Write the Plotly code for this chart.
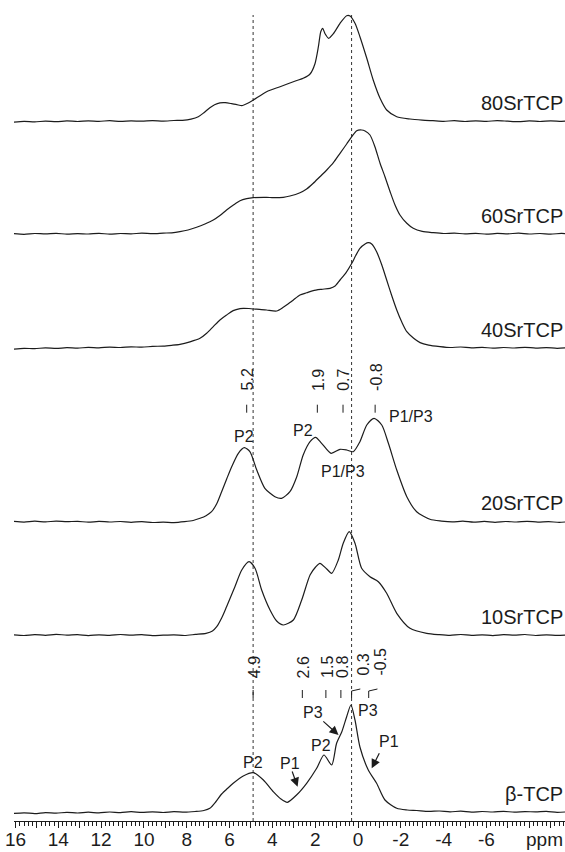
import plotly.graph_objects as go

# ---------------------------------------------------------------------------
# 31P MAS NMR spectra (chemical shift in ppm, intensity in plot units)
# ---------------------------------------------------------------------------
samples = ["80SrTCP", "60SrTCP", "40SrTCP", "20SrTCP", "10SrTCP", "β-TCP"]

ppm_80 = [16.1, 15.6, 15.1, 14.6, 14.1, 13.6, 13.1, 12.6, 12.1, 11.6,
          11.1, 10.6, 10.1, 9.6, 9.1, 8.6, 8.2, 7.8, 7.46, 7.2,
          6.92, 6.7, 6.45, 6.2, 5.9, 5.59, 5.43, 5.15, 4.89, 4.27,
          3.64, 3.02, 2.56, 2.24, 2.01, 1.85, 1.74, 1.65, 1.54, 1.37,
          1.15, 0.84, 0.53, 0.37, 0.14, -0.09, -0.41, -0.71, -1.03, -1.34,
          -1.81, -2.43, -3.0, -3.5, -4.0, -4.5, -5.0, -5.5, -6.0, -6.5,
          -7.0, -7.5, -8.0, -8.5, -9.0, -9.5, -9.8]
int_80 = [-0.5, 0.3, -0.2, 0.6, 0.0, 0.8, 0.2, 0.9, 0.4, 1.0,
          0.3, 0.8, 0.5, 1.1, 0.6, 1.2, 1.4, 2.6, 5.0, 9.0,
          14.0, 17.0, 18.8, 19.0, 18.0, 16.7, 16.0, 18.5, 21.7, 30.0,
          35.0, 40.0, 43.4, 47.7, 58.0, 75.0, 90.0, 93.4, 88.0, 83.4,
          88.0, 98.4, 106.0, 105.7, 98.4, 85.0, 63.4, 41.7, 23.4, 11.7,
          5.0, 2.7, 1.6, 1.0, 0.4, 1.0, 0.2, 0.9, 0.3, 1.1,
          0.5, 0.0, 0.8, 0.2, 0.9, 0.4, 0.7]

ppm_60 = [16.1, 15.6, 15.1, 14.6, 14.1, 13.6, 13.1, 12.6, 12.1, 11.6,
          11.1, 10.6, 10.1, 9.6, 9.1, 8.7, 8.32, 7.94, 7.54, 7.15,
          6.76, 6.45, 6.14, 5.82, 5.51, 5.2, 4.89, 4.27, 3.96, 3.49,
          3.18, 2.71, 2.4, 2.09, 1.78, 1.46, 1.15, 0.84, 0.53, 0.29,
          0.06, -0.17, -0.33, -0.56, -0.79, -1.03, -1.26, -1.5, -1.73, -1.96,
          -2.28, -2.58, -3.0, -3.52, -4.0, -4.5, -5.0, -5.5, -6.0, -6.5,
          -7.0, -7.5, -8.0, -8.5, -9.0, -9.5, -9.8]
int_60 = [0.4, -0.3, 0.5, 0.1, 0.7, -0.2, 0.4, 0.0, 0.6, -0.1,
          0.5, 0.2, 0.8, 0.3, 0.9, 1.2, 2.3, 4.0, 6.7, 10.0,
          14.0, 18.5, 24.0, 29.0, 33.3, 35.3, 36.3, 36.7, 36.3, 36.7,
          38.0, 41.3, 45.0, 50.7, 57.3, 64.0, 71.3, 80.7, 90.0, 97.3,
          103.3, 104.0, 103.0, 99.0, 87.3, 70.7, 57.3, 42.3, 29.0, 19.0,
          10.7, 5.7, 2.6, 1.3, 0.5, 0.9, 0.1, 0.7, -0.2, 0.6,
          0.2, 0.8, 0.0, 0.5, -0.1, 0.6, 0.3]

ppm_40 = [16.1, 15.6, 15.1, 14.6, 14.1, 13.6, 13.1, 12.6, 12.1, 11.6,
          11.1, 10.6, 10.1, 9.6, 9.1, 8.7, 8.32, 7.85, 7.38, 7.07,
          6.76, 6.45, 6.14, 5.83, 5.51, 5.36, 5.1, 4.89, 4.6, 4.27,
          3.8, 3.49, 3.18, 3.02, 2.71, 2.4, 2.09, 1.7, 1.31, 1.07,
          0.84, 0.55, 0.29, 0.1, -0.09, -0.33, -0.48, -0.64, -0.87, -1.1,
          -1.34, -1.57, -1.81, -2.05, -2.28, -2.6, -2.9, -3.3, -3.83, -4.3,
          -4.8, -5.3, -5.8, -6.3, -6.8, -7.3, -7.8, -8.3, -8.8, -9.3,
          -9.8]
int_40 = [-0.8, 0.0, -0.4, 0.5, -0.1, 0.6, 0.2, 0.9, 0.5, 1.2,
          0.8, 1.5, 1.1, 1.9, 2.2, 3.0, 4.0, 6.5, 10.0, 15.0,
          21.7, 28.3, 33.3, 37.7, 39.7, 40.0, 39.8, 39.3, 39.0, 38.3,
          37.3, 41.0, 45.7, 48.3, 53.3, 55.5, 57.7, 59.0, 60.0, 62.3,
          68.3, 76.0, 85.0, 93.0, 100.0, 104.3, 105.6, 104.3, 96.6, 84.0,
          68.3, 53.0, 38.3, 26.0, 16.6, 10.0, 5.7, 3.2, 1.7, 0.8,
          1.3, 0.4, 1.0, 0.1, 0.8, 0.3, 1.0, 0.2, 0.7, 0.0,
          0.5]

ppm_20 = [16.1, 15.6, 15.1, 14.6, 14.1, 13.6, 13.1, 12.6, 12.1, 11.6,
          11.1, 10.6, 10.1, 9.6, 9.1, 8.6, 8.1, 7.7, 7.38, 7.1,
          6.84, 6.6, 6.37, 6.13, 5.9, 5.59, 5.31, 5.05, 4.73, 4.35,
          3.88, 3.57, 3.18, 2.86, 2.56, 2.24, 1.98, 1.7, 1.26, 0.84,
          0.53, 0.22, -0.09, -0.41, -0.75, -1.11, -1.42, -1.81, -2.28, -2.74,
          -3.36, -3.9, -4.4, -4.9, -5.4, -5.9, -6.4, -6.9, -7.4, -7.9,
          -8.4, -8.9, -9.4, -9.8]
int_20 = [0.3, -0.4, 0.5, -0.2, 0.6, 0.0, 0.4, -0.5, 0.3, -0.3,
          0.2, -0.6, 0.1, -0.8, -0.4, -0.9, 0.0, 1.2, 3.4, 6.0,
          10.0, 18.0, 30.0, 43.0, 55.0, 68.4, 74.0, 70.0, 51.7, 33.4,
          25.0, 23.4, 30.0, 45.0, 66.7, 80.0, 84.4, 78.4, 68.4, 72.4,
          71.7, 70.0, 80.0, 96.7, 103.4, 96.7, 78.4, 51.7, 25.0, 10.0,
          2.4, 0.6, -0.2, 0.5, -0.5, 0.3, -0.6, 0.2, -0.3, 0.4,
          -0.4, 0.1, -0.7, 0.0]

ppm_10 = [16.1, 15.6, 15.1, 14.6, 14.1, 13.6, 13.1, 12.6, 12.1, 11.6,
          11.1, 10.6, 10.1, 9.6, 9.1, 8.6, 8.1, 7.6, 7.1, 6.8,
          6.6, 6.37, 6.14, 5.75, 5.43, 5.09, 4.81, 4.5, 4.11, 3.8,
          3.49, 3.02, 2.63, 2.24, 1.98, 1.78, 1.46, 1.23, 0.92, 0.69,
          0.41, 0.14, -0.17, -0.56, -0.95, -1.34, -1.81, -2.43, -3.21, -3.8,
          -4.3, -4.8, -5.3, -5.8, -6.3, -6.8, -7.3, -7.8, -8.3, -8.8,
          -9.3, -9.8]
int_10 = [0.2, -0.5, 0.4, -0.3, 0.6, -0.1, 0.3, -0.6, 0.2, -0.4,
          0.5, -0.2, 0.3, -0.7, -0.2, 0.1, -0.5, 0.6, 1.7, 4.0,
          8.3, 17.0, 28.3, 48.3, 65.0, 73.3, 66.7, 45.0, 25.0, 14.0,
          10.0, 15.0, 35.0, 60.0, 68.0, 71.7, 66.0, 61.7, 75.0, 91.7,
          103.3, 91.7, 66.7, 58.3, 53.3, 41.7, 21.7, 6.7, 1.7, 0.3,
          -0.4, 0.5, -0.3, 0.2, -0.6, 0.3, -0.2, 0.5, -0.5, 0.2,
          -0.3, 0.1]

ppm_b = [16.1, 15.6, 15.1, 14.6, 14.1, 13.6, 13.1, 12.6, 12.1, 11.6,
         11.1, 10.6, 10.1, 9.6, 9.1, 8.6, 8.1, 7.6, 7.2, 6.92,
         6.65, 6.37, 6.1, 5.83, 5.36, 4.89, 4.42, 3.96, 3.6, 3.3,
         2.87, 2.4, 1.93, 1.59, 1.23, 1.0, 0.76, 0.53, 0.33, 0.14,
         -0.09, -0.48, -0.87, -1.26, -1.81, -2.3, -2.74, -3.3, -3.8, -4.3,
         -4.8, -5.3, -5.8, -6.3, -6.8, -7.3, -7.8, -8.3, -8.8, -9.3,
         -9.8]
int_b = [-1.5, -0.8, -1.6, -0.6, -1.2, -0.3, -1.0, -0.2, -0.9, 0.0,
         -0.6, 0.3, -0.4, 0.2, -0.5, 0.4, -0.2, 0.5, 1.5, 3.7,
         10.0, 18.0, 23.5, 28.7, 36.0, 39.3, 32.0, 20.3, 13.0, 9.7,
         17.0, 28.7, 43.7, 57.0, 47.0, 68.7, 80.0, 95.3, 107.0, 92.0,
         65.0, 42.0, 28.7, 12.0, 3.7, 2.0, 1.5, 0.6, 1.0, 0.2,
         0.8, -0.1, 0.5, 0.0, 0.7, -0.2, 0.4, 0.1, 0.6, -0.3,
         0.2]

# peak positions marked above the 20SrTCP and β-TCP traces (ppm)
peaks_20 = [5.2, 1.9, 0.7, -0.8]
peaks_b = [4.9, 2.6, 1.5, 0.8, 0.3, -0.5]
# reference lines through the β-TCP P2 and main P3 peaks
guide_ppm = [4.9, 0.3]

# axis ticks
tick_vals = list(range(16, -10, -1))
tick_text = [str(v) if (v % 2 == 0 and v > -8) else "" for v in tick_vals]

# ---------------------------------------------------------------------------
# layout constants (plot units = pixels of the plotting area)
# ---------------------------------------------------------------------------
FONT = "Liberation Sans, Arial, sans-serif"
INK = "#1c1c1c"
PLOT_H = 821
offsets = [699.3, 587.0, 472.7, 299.3, 186.0, 9.0]
ppm_sets = [ppm_80, ppm_60, ppm_40, ppm_20, ppm_10, ppm_b]
int_sets = [int_80, int_60, int_40, int_20, int_10, int_b]

fig = go.Figure()

for name, xs, ys, off in zip(samples, ppm_sets, int_sets, offsets):
    fig.add_trace(go.Scatter(
        x=xs, y=[v + off for v in ys], mode="lines", name=name,
        line=dict(color=INK, width=1.2, shape="spline", smoothing=0.7),
        showlegend=False, hoverinfo="skip"))

shapes = []
annotations = []

# dotted guide lines
for g in guide_ppm:
    shapes.append(dict(type="line", xref="x", yref="y", x0=g, x1=g,
                       y0=0, y1=806, layer="below",
                       line=dict(color="#333333", width=1, dash="dot")))

# sample names at the right
for name, off in zip(samples, offsets):
    annotations.append(dict(text=name, xref="paper", yref="y", x=1.0,
                            y=off + 18.5, xanchor="right", yanchor="middle",
                            showarrow=False,
                            font=dict(family=FONT, size=20, color=INK)))

# peak position markers with rotated values
def peak_marks(values, off, tick_lo, tick_hi, text_bottom, bracketed=()):
    for v in values:
        label = f"{v:.1f}"
        if v in bracketed:
            dx = -0.51
            shapes.append(dict(
                type="path", xref="x", yref="y",
                path=(f"M {v},{off + tick_lo} L {v},{off + tick_hi - 1} "
                      f"L {v + dx * 0.8},{off + tick_hi + 1}"),
                line=dict(color=INK, width=1)))
            annotations.append(dict(text=label, x=v + dx,
                                    y=off + text_bottom + 2, textangle=-90,
                                    xanchor="center", yanchor="bottom",
                                    showarrow=False, borderpad=0,
                                    font=dict(family=FONT, size=16, color=INK)))
        else:
            shapes.append(dict(type="line", xref="x", yref="y", x0=v, x1=v,
                               y0=off + tick_lo, y1=off + tick_hi,
                               line=dict(color=INK, width=1)))
            annotations.append(dict(text=label, x=v - 0.05,
                                    y=off + text_bottom, textangle=-90,
                                    xanchor="center", yanchor="bottom",
                                    showarrow=False, borderpad=0,
                                    font=dict(family=FONT, size=16, color=INK)))

peak_marks(peaks_20, offsets[3], 109, 117, 130)
peak_marks(peaks_b, offsets[5], 114, 122, 133, bracketed=(0.3, -0.5))

# site labels
def site(text, x, y):
    annotations.append(dict(text=text, x=x, y=y, xanchor="center",
                            yanchor="middle", showarrow=False,
                            font=dict(family=FONT, size=16, color=INK)))

o20, ob = offsets[3], offsets[5]
site("P2", 5.33, o20 + 85)
site("P2", 2.56, o20 + 91.7)
site("P1/P3", -2.46, o20 + 105.7)
site("P1/P3", 0.71, o20 + 50.7)

site("P2", 4.89, ob + 49.3)
site("P1", 3.18, ob + 48.7)
site("P2", 1.73, ob + 67)
site("P3", 2.09, ob + 99.3)
site("P3", -0.48, ob + 102)
site("P1", -1.46, ob + 70.3)

# arrows pointing to shoulders of the β-TCP trace
def arrow(tail_x, tail_y, head_x, head_y):
    annotations.append(dict(text="", x=head_x, y=head_y, ax=tail_x, ay=tail_y,
                            xref="x", yref="y", axref="x", ayref="y",
                            showarrow=True, arrowhead=2, arrowsize=1.5,
                            arrowwidth=1.2, arrowcolor=INK, standoff=0,
                            startstandoff=0))

arrow(3.10, ob + 42, 2.82, ob + 25.3)
arrow(1.69, ob + 92, 0.91, ob + 77)
arrow(-1.03, ob + 60.3, -0.64, ob + 43.7)

# unit label in place of the last tick label
annotations.append(dict(text="ppm", x=-7.75, y=-19.0 / PLOT_H,
                        xref="x", yref="paper",
                        xanchor="left", yanchor="middle", showarrow=False,
                        font=dict(family=FONT, size=19, color=INK)))

fig.update_layout(
    width=565, height=852,
    margin=dict(l=14, r=0, t=0, b=31, pad=0),
    paper_bgcolor="white", plot_bgcolor="white",
    shapes=shapes, annotations=annotations,
    xaxis=dict(range=[16.07, -9.67], showgrid=False, zeroline=False,
               showline=True, linecolor=INK, linewidth=1,
               ticks="outside", ticklen=6, tickwidth=1, tickcolor=INK,
               tickmode="array", tickvals=tick_vals, ticktext=tick_text,
               tickfont=dict(family=FONT, size=19, color=INK),
               ticklabelstandoff=-5,
               minor=dict(tickmode="linear", tick0=0, dtick=0.2,
                          ticks="outside", ticklen=3.5, tickwidth=1,
                          tickcolor=INK, showgrid=False),
               automargin=False, fixedrange=True),
    yaxis=dict(range=[0, PLOT_H], visible=False, fixedrange=True),
)

fig.write_html("out.html")
